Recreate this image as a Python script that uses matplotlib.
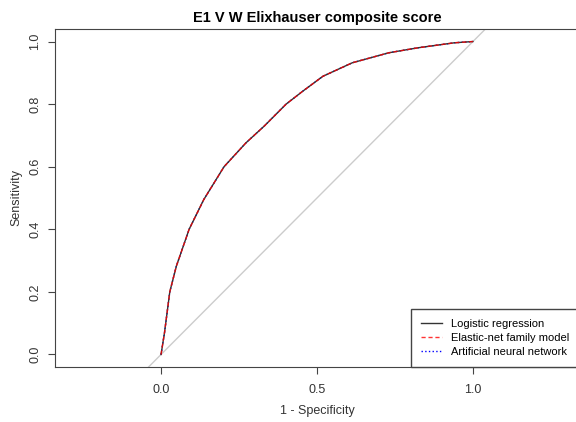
import matplotlib
matplotlib.use("Agg")
import matplotlib.pyplot as plt
import numpy as np

plt.rcParams['font.family'] = ['Liberation Sans', 'DejaVu Sans']

# ROC points (1 - specificity, sensitivity)
fpr = [0, 0.011, 0.028, 0.049, 0.090, 0.137, 0.202, 0.272, 0.331,
       0.401, 0.454, 0.519, 0.613, 0.730, 0.824, 0.941, 1.0]
sens = [0, 0.069, 0.2, 0.282, 0.4, 0.495, 0.6, 0.676, 0.73,
        0.8, 0.841, 0.889, 0.932, 0.964, 0.98, 0.996, 1.0]
labels = ['Logistic regression', 'Elastic-net family model', 'Artificial neural network']
xticks = [0.0, 0.5, 1.0]
yticks = [0.0, 0.2, 0.4, 0.6, 0.8, 1.0]

fig = plt.figure(figsize=[5.76, 4.22], dpi=100)
ax = fig.add_axes([55/576, 55/422, 524/576, 338/422])

ax.plot([-2, 2], [-2, 2], color='#cccccc', lw=1, zorder=1)
ax.plot(fpr, sens, color='blue', ls=':', lw=1, label=labels[2], zorder=2)
ax.plot(fpr, sens, color='#333333', ls='-', lw=1, label=labels[0], zorder=3)
ax.plot(fpr, sens, color='red', ls='--', lw=1, dashes=(3, 2), alpha=0.8, label=labels[1], zorder=4)

ax.set_xlim(-0.34, 1.34)
ax.set_ylim(-0.04, 1.04)
ax.set_xticks(xticks)
ax.set_yticks(yticks)
ax.set_xticklabels(['%.1f' % v for v in xticks], fontsize=9, color='#333333')
ax.set_yticklabels(['%.1f' % v for v in yticks], fontsize=9, color='#333333',
                   rotation=90, va='center')
ax.tick_params(axis='x', length=5, color='#444444', pad=7)
ax.tick_params(axis='y', length=5, color='#444444', pad=5)
for s in ax.spines.values():
    s.set_color('#444444')

ax.set_title('E1 V W Elixhauser composite score', fontsize=10.5, fontweight='bold', pad=5)
ax.set_xlabel('1 - Specificity', fontsize=9, color='#333333', labelpad=7)
ax.set_ylabel('Sensitivity', fontsize=9, color='#333333', labelpad=5)

h, l = ax.get_legend_handles_labels()
order = [1, 2, 0]
leg = ax.legend([h[i] for i in order], [l[i] for i in order], loc='lower right',
                borderaxespad=0, fancybox=False, framealpha=1, edgecolor='#444444',
                fontsize=8, handlelength=1.9, handletextpad=0.8, labelspacing=0.35,
                borderpad=0.9)
leg.get_frame().set_linewidth(1)

plt.savefig('out.png', dpi=100)
